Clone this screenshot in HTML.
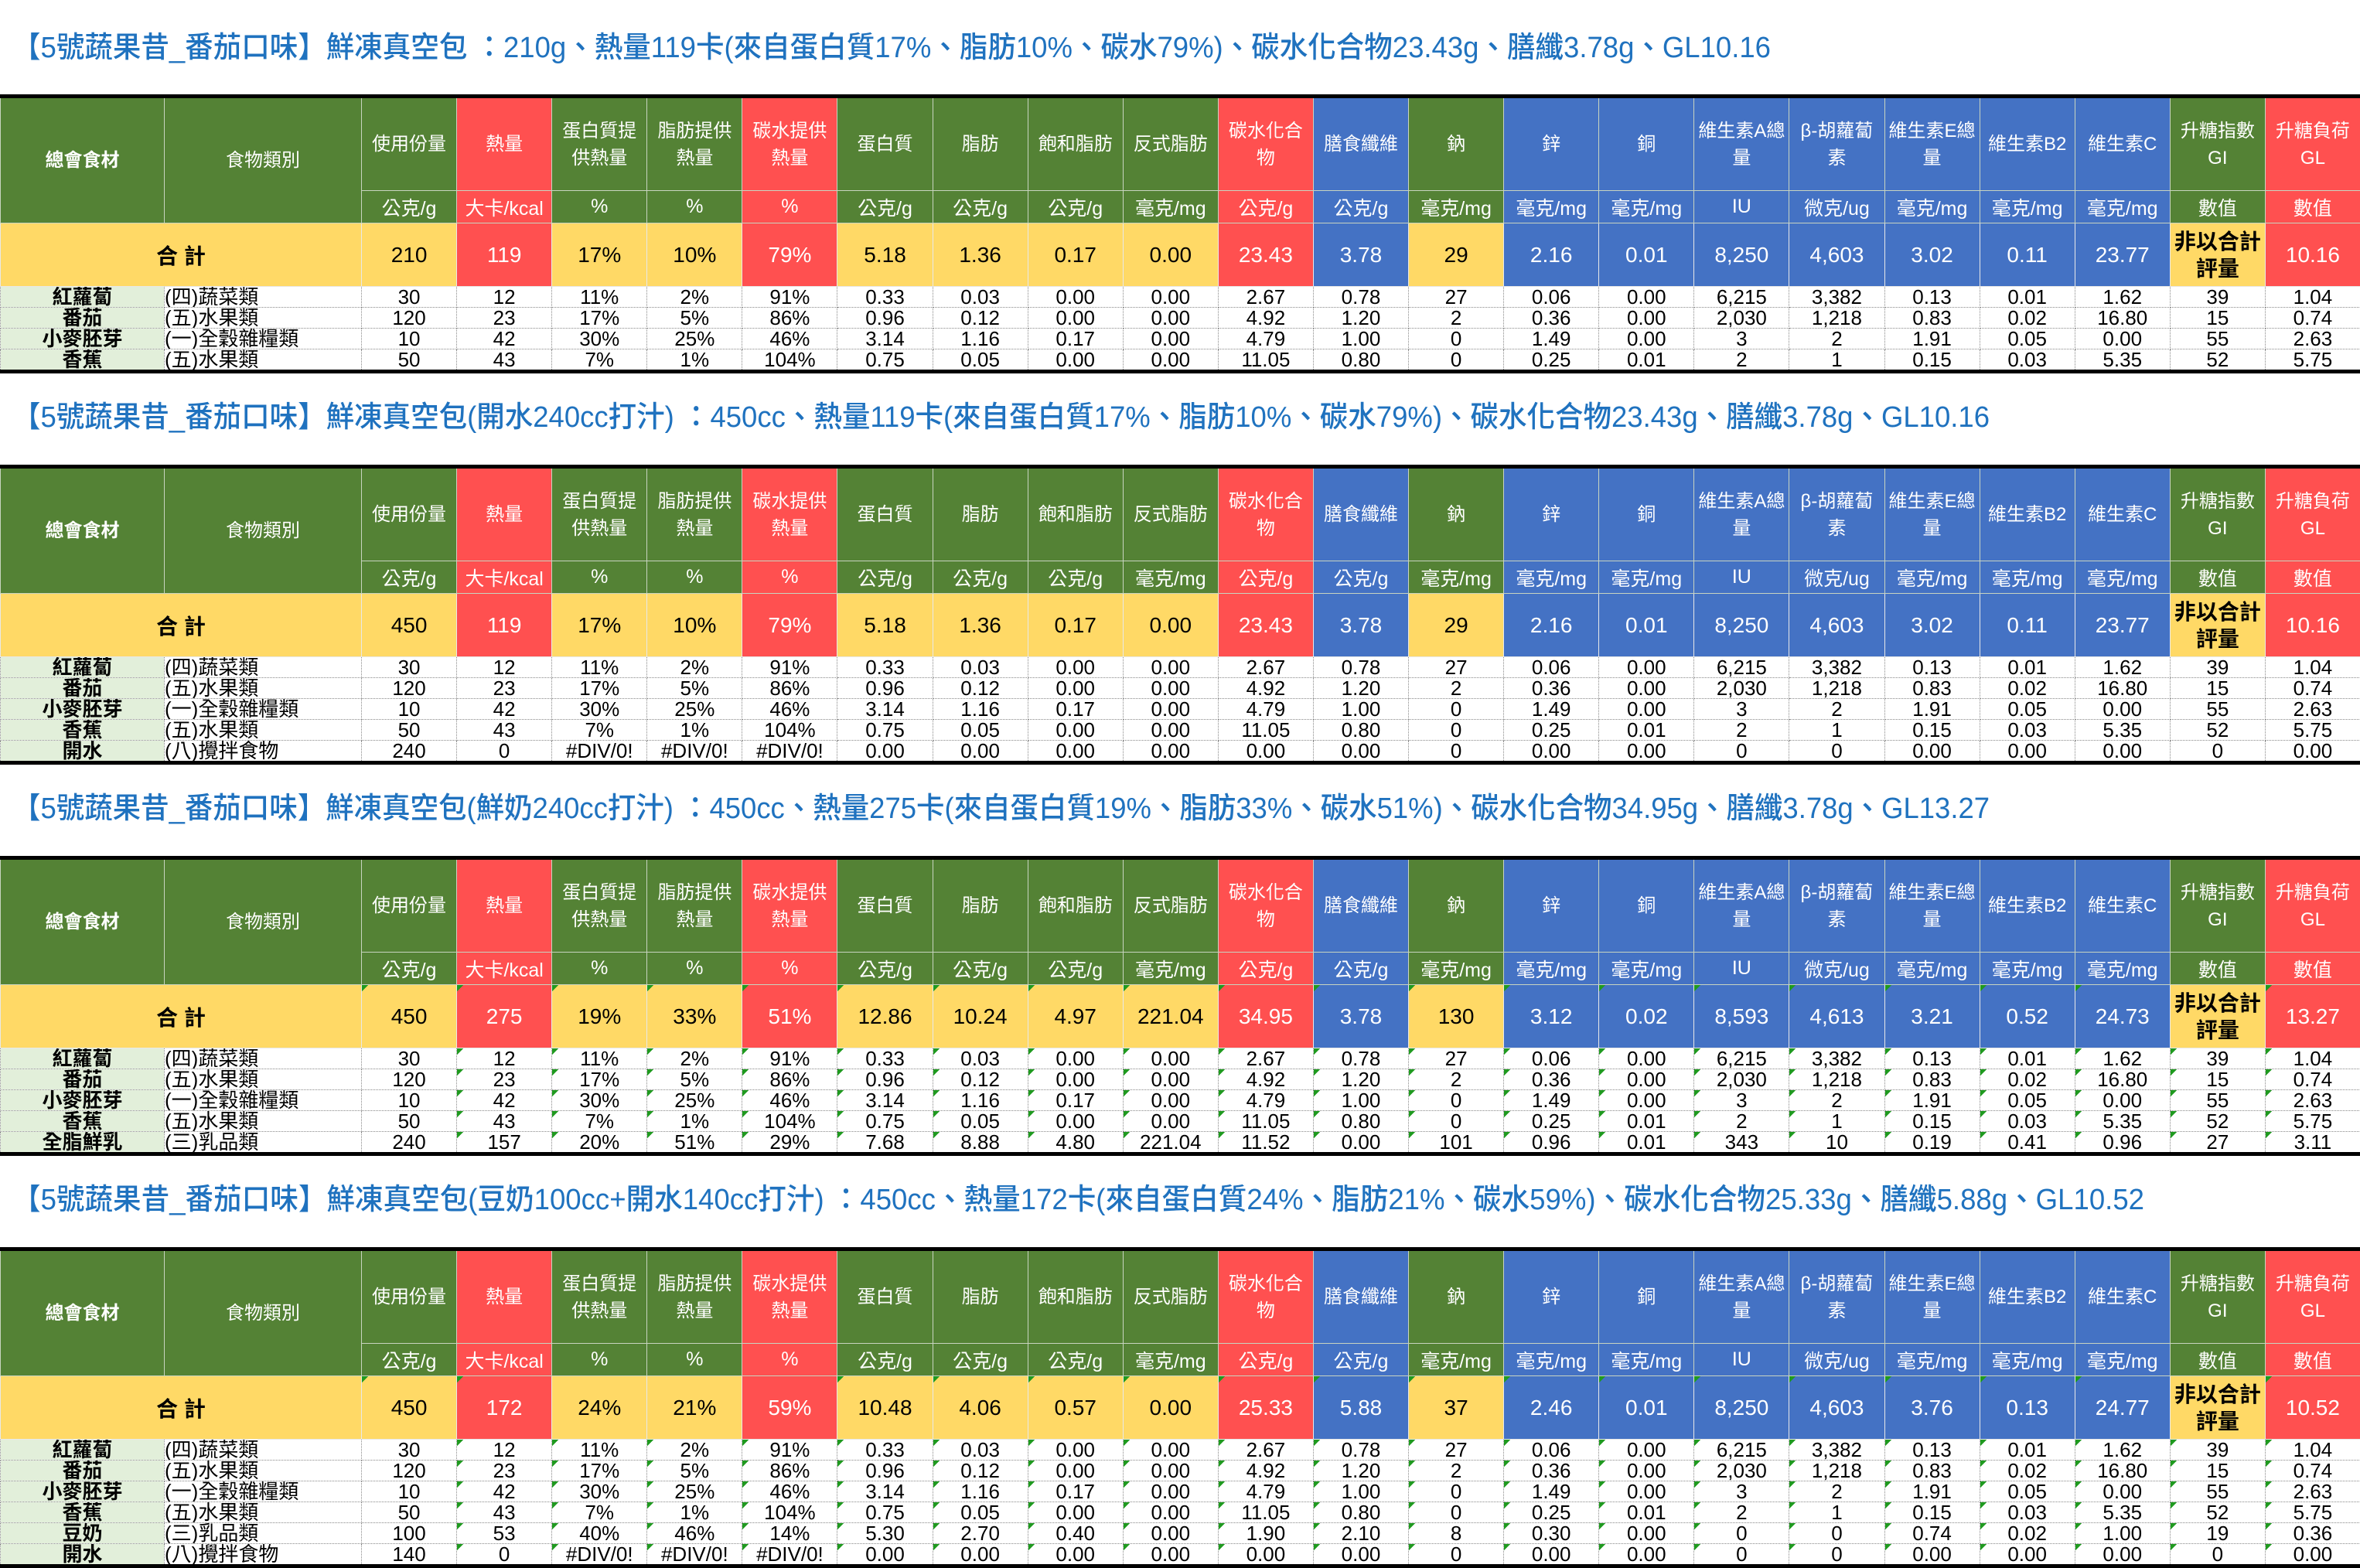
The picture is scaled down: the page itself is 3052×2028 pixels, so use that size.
<!DOCTYPE html>
<html><head><meta charset="utf-8">
<style>
*{margin:0;padding:0;box-sizing:border-box}
body{width:3052px;height:2026px;background:#fff;position:relative;overflow:hidden;font-family:"Liberation Sans Narrow","Liberation Sans","Noto Sans CJK TC",sans-serif}
.ttl{position:absolute;left:0}
table{position:absolute;left:0;width:3052px;border-collapse:collapse;table-layout:fixed;border-top:5px solid #000;border-bottom:5px solid #000}
td{padding:0;text-align:center;vertical-align:middle;white-space:nowrap;overflow:hidden;font-family:"Liberation Sans Narrow","Liberation Sans","Noto Sans CJK TC",sans-serif}
tr.h td{height:122px;color:#fff;font-size:24px;line-height:35px;border:1px solid #c8d4c0}
tr.u td{height:42px;color:#fff;font-size:25px;border:1px solid #c8d4c0}
tr.s td{height:82px;font-size:28px;color:#fff;border:1px solid #e8e8e8}
tr.d td{height:27px;font-size:26px;line-height:26px;color:#000;border:1px dotted #888}
.g{background:#548235}.r{background:#ff5050}.b{background:#4472c4}.y{background:#ffd966;color:#000!important}
td.f{background:#e2efda;font-weight:bold}
td.c{text-align:left}
td.k{font-weight:bold;font-size:25px;line-height:35px}
.t td.n{background-image:linear-gradient(135deg,#1f9a1f 6px,transparent 6px);background-size:14px 14px;background-repeat:no-repeat}
</style></head><body>

<svg class="ttl" style="top:0" width="3052" height="124"><text x="16" y="74" font-size="38" font-weight="500" fill="#1f72bf" textLength="2274" lengthAdjust="spacingAndGlyphs" font-family="Liberation Sans Narrow, Liberation Sans, Noto Sans CJK TC, sans-serif">【5號蔬果昔_番茄口味】鮮凍真空包 ：210g、熱量119卡(來自蛋白質17%、脂肪10%、碳水79%)、碳水化合物23.43g、膳纖3.78g、GL10.16</text></svg>

<table style="top:122px">
<colgroup><col style="width:212px"><col style="width:255px"><col span="21" style="width:123.1px"></colgroup>
<tr class="h"><td class="g" rowspan="2" style="font-weight:bold">總會食材</td><td class="g" rowspan="2">食物類別</td><td class="g">使用份量</td><td class="r">熱量</td><td class="g">蛋白質提<br>供熱量</td><td class="g">脂肪提供<br>熱量</td><td class="r">碳水提供<br>熱量</td><td class="g">蛋白質</td><td class="g">脂肪</td><td class="g">飽和脂肪</td><td class="g">反式脂肪</td><td class="r">碳水化合<br>物</td><td class="b">膳食纖維</td><td class="g">鈉</td><td class="b">鋅</td><td class="b">銅</td><td class="b">維生素A總<br>量</td><td class="b">β-胡蘿蔔<br>素</td><td class="b">維生素E總<br>量</td><td class="b">維生素B2</td><td class="b">維生素C</td><td class="g">升糖指數<br>GI</td><td class="r">升糖負荷<br>GL</td></tr>
<tr class="u"><td class="g">公克/g</td><td class="r">大卡/kcal</td><td class="g">%</td><td class="g">%</td><td class="r">%</td><td class="g">公克/g</td><td class="g">公克/g</td><td class="g">公克/g</td><td class="g">毫克/mg</td><td class="r">公克/g</td><td class="b">公克/g</td><td class="g">毫克/mg</td><td class="b">毫克/mg</td><td class="b">毫克/mg</td><td class="b">IU</td><td class="b">微克/ug</td><td class="b">毫克/mg</td><td class="b">毫克/mg</td><td class="b">毫克/mg</td><td class="g">數值</td><td class="r">數值</td></tr>
<tr class="s"><td class="y" colspan="2" style="font-weight:bold">合 計</td><td class="y">210</td><td class="r">119</td><td class="y">17%</td><td class="y">10%</td><td class="r">79%</td><td class="y">5.18</td><td class="y">1.36</td><td class="y">0.17</td><td class="y">0.00</td><td class="r">23.43</td><td class="b">3.78</td><td class="y">29</td><td class="b">2.16</td><td class="b">0.01</td><td class="b">8,250</td><td class="b">4,603</td><td class="b">3.02</td><td class="b">0.11</td><td class="b">23.77</td><td class="y k">非以合計<br>評量</td><td class="r">10.16</td></tr>
<tr class="d"><td class="f">紅蘿蔔</td><td class="c">(四)蔬菜類</td><td>30</td><td>12</td><td>11%</td><td>2%</td><td>91%</td><td>0.33</td><td>0.03</td><td>0.00</td><td>0.00</td><td>2.67</td><td>0.78</td><td>27</td><td>0.06</td><td>0.00</td><td>6,215</td><td>3,382</td><td>0.13</td><td>0.01</td><td>1.62</td><td>39</td><td>1.04</td></tr>
<tr class="d"><td class="f">番茄</td><td class="c">(五)水果類</td><td>120</td><td>23</td><td>17%</td><td>5%</td><td>86%</td><td>0.96</td><td>0.12</td><td>0.00</td><td>0.00</td><td>4.92</td><td>1.20</td><td>2</td><td>0.36</td><td>0.00</td><td>2,030</td><td>1,218</td><td>0.83</td><td>0.02</td><td>16.80</td><td>15</td><td>0.74</td></tr>
<tr class="d"><td class="f">小麥胚芽</td><td class="c">(一)全穀雜糧類</td><td>10</td><td>42</td><td>30%</td><td>25%</td><td>46%</td><td>3.14</td><td>1.16</td><td>0.17</td><td>0.00</td><td>4.79</td><td>1.00</td><td>0</td><td>1.49</td><td>0.00</td><td>3</td><td>2</td><td>1.91</td><td>0.05</td><td>0.00</td><td>55</td><td>2.63</td></tr>
<tr class="d"><td class="f">香蕉</td><td class="c">(五)水果類</td><td>50</td><td>43</td><td>7%</td><td>1%</td><td>104%</td><td>0.75</td><td>0.05</td><td>0.00</td><td>0.00</td><td>11.05</td><td>0.80</td><td>0</td><td>0.25</td><td>0.01</td><td>2</td><td>1</td><td>0.15</td><td>0.03</td><td>5.35</td><td>52</td><td>5.75</td></tr>
</table>

<svg class="ttl" style="top:481px" width="3052" height="122"><text x="16" y="71" font-size="38" font-weight="500" fill="#1f72bf" textLength="2557" lengthAdjust="spacingAndGlyphs" font-family="Liberation Sans Narrow, Liberation Sans, Noto Sans CJK TC, sans-serif">【5號蔬果昔_番茄口味】鮮凍真空包(開水240cc打汁) ：450cc、熱量119卡(來自蛋白質17%、脂肪10%、碳水79%)、碳水化合物23.43g、膳纖3.78g、GL10.16</text></svg>

<table style="top:601px">
<colgroup><col style="width:212px"><col style="width:255px"><col span="21" style="width:123.1px"></colgroup>
<tr class="h"><td class="g" rowspan="2" style="font-weight:bold">總會食材</td><td class="g" rowspan="2">食物類別</td><td class="g">使用份量</td><td class="r">熱量</td><td class="g">蛋白質提<br>供熱量</td><td class="g">脂肪提供<br>熱量</td><td class="r">碳水提供<br>熱量</td><td class="g">蛋白質</td><td class="g">脂肪</td><td class="g">飽和脂肪</td><td class="g">反式脂肪</td><td class="r">碳水化合<br>物</td><td class="b">膳食纖維</td><td class="g">鈉</td><td class="b">鋅</td><td class="b">銅</td><td class="b">維生素A總<br>量</td><td class="b">β-胡蘿蔔<br>素</td><td class="b">維生素E總<br>量</td><td class="b">維生素B2</td><td class="b">維生素C</td><td class="g">升糖指數<br>GI</td><td class="r">升糖負荷<br>GL</td></tr>
<tr class="u"><td class="g">公克/g</td><td class="r">大卡/kcal</td><td class="g">%</td><td class="g">%</td><td class="r">%</td><td class="g">公克/g</td><td class="g">公克/g</td><td class="g">公克/g</td><td class="g">毫克/mg</td><td class="r">公克/g</td><td class="b">公克/g</td><td class="g">毫克/mg</td><td class="b">毫克/mg</td><td class="b">毫克/mg</td><td class="b">IU</td><td class="b">微克/ug</td><td class="b">毫克/mg</td><td class="b">毫克/mg</td><td class="b">毫克/mg</td><td class="g">數值</td><td class="r">數值</td></tr>
<tr class="s"><td class="y" colspan="2" style="font-weight:bold">合 計</td><td class="y">450</td><td class="r">119</td><td class="y">17%</td><td class="y">10%</td><td class="r">79%</td><td class="y">5.18</td><td class="y">1.36</td><td class="y">0.17</td><td class="y">0.00</td><td class="r">23.43</td><td class="b">3.78</td><td class="y">29</td><td class="b">2.16</td><td class="b">0.01</td><td class="b">8,250</td><td class="b">4,603</td><td class="b">3.02</td><td class="b">0.11</td><td class="b">23.77</td><td class="y k">非以合計<br>評量</td><td class="r">10.16</td></tr>
<tr class="d"><td class="f">紅蘿蔔</td><td class="c">(四)蔬菜類</td><td>30</td><td>12</td><td>11%</td><td>2%</td><td>91%</td><td>0.33</td><td>0.03</td><td>0.00</td><td>0.00</td><td>2.67</td><td>0.78</td><td>27</td><td>0.06</td><td>0.00</td><td>6,215</td><td>3,382</td><td>0.13</td><td>0.01</td><td>1.62</td><td>39</td><td>1.04</td></tr>
<tr class="d"><td class="f">番茄</td><td class="c">(五)水果類</td><td>120</td><td>23</td><td>17%</td><td>5%</td><td>86%</td><td>0.96</td><td>0.12</td><td>0.00</td><td>0.00</td><td>4.92</td><td>1.20</td><td>2</td><td>0.36</td><td>0.00</td><td>2,030</td><td>1,218</td><td>0.83</td><td>0.02</td><td>16.80</td><td>15</td><td>0.74</td></tr>
<tr class="d"><td class="f">小麥胚芽</td><td class="c">(一)全穀雜糧類</td><td>10</td><td>42</td><td>30%</td><td>25%</td><td>46%</td><td>3.14</td><td>1.16</td><td>0.17</td><td>0.00</td><td>4.79</td><td>1.00</td><td>0</td><td>1.49</td><td>0.00</td><td>3</td><td>2</td><td>1.91</td><td>0.05</td><td>0.00</td><td>55</td><td>2.63</td></tr>
<tr class="d"><td class="f">香蕉</td><td class="c">(五)水果類</td><td>50</td><td>43</td><td>7%</td><td>1%</td><td>104%</td><td>0.75</td><td>0.05</td><td>0.00</td><td>0.00</td><td>11.05</td><td>0.80</td><td>0</td><td>0.25</td><td>0.01</td><td>2</td><td>1</td><td>0.15</td><td>0.03</td><td>5.35</td><td>52</td><td>5.75</td></tr>
<tr class="d"><td class="f">開水</td><td class="c">(八)攪拌食物</td><td>240</td><td>0</td><td>#DIV/0!</td><td>#DIV/0!</td><td>#DIV/0!</td><td>0.00</td><td>0.00</td><td>0.00</td><td>0.00</td><td>0.00</td><td>0.00</td><td>0</td><td>0.00</td><td>0.00</td><td>0</td><td>0</td><td>0.00</td><td>0.00</td><td>0.00</td><td>0</td><td>0.00</td></tr>
</table>

<svg class="ttl" style="top:987px" width="3052" height="122"><text x="16" y="71" font-size="38" font-weight="500" fill="#1f72bf" textLength="2557" lengthAdjust="spacingAndGlyphs" font-family="Liberation Sans Narrow, Liberation Sans, Noto Sans CJK TC, sans-serif">【5號蔬果昔_番茄口味】鮮凍真空包(鮮奶240cc打汁) ：450cc、熱量275卡(來自蛋白質19%、脂肪33%、碳水51%)、碳水化合物34.95g、膳纖3.78g、GL13.27</text></svg>

<table class="t" style="top:1107px">
<colgroup><col style="width:212px"><col style="width:255px"><col span="21" style="width:123.1px"></colgroup>
<tr class="h"><td class="g" rowspan="2" style="font-weight:bold">總會食材</td><td class="g" rowspan="2">食物類別</td><td class="g">使用份量</td><td class="r">熱量</td><td class="g">蛋白質提<br>供熱量</td><td class="g">脂肪提供<br>熱量</td><td class="r">碳水提供<br>熱量</td><td class="g">蛋白質</td><td class="g">脂肪</td><td class="g">飽和脂肪</td><td class="g">反式脂肪</td><td class="r">碳水化合<br>物</td><td class="b">膳食纖維</td><td class="g">鈉</td><td class="b">鋅</td><td class="b">銅</td><td class="b">維生素A總<br>量</td><td class="b">β-胡蘿蔔<br>素</td><td class="b">維生素E總<br>量</td><td class="b">維生素B2</td><td class="b">維生素C</td><td class="g">升糖指數<br>GI</td><td class="r">升糖負荷<br>GL</td></tr>
<tr class="u"><td class="g">公克/g</td><td class="r">大卡/kcal</td><td class="g">%</td><td class="g">%</td><td class="r">%</td><td class="g">公克/g</td><td class="g">公克/g</td><td class="g">公克/g</td><td class="g">毫克/mg</td><td class="r">公克/g</td><td class="b">公克/g</td><td class="g">毫克/mg</td><td class="b">毫克/mg</td><td class="b">毫克/mg</td><td class="b">IU</td><td class="b">微克/ug</td><td class="b">毫克/mg</td><td class="b">毫克/mg</td><td class="b">毫克/mg</td><td class="g">數值</td><td class="r">數值</td></tr>
<tr class="s"><td class="y" colspan="2" style="font-weight:bold">合 計</td><td class="y n">450</td><td class="r n">275</td><td class="y n">19%</td><td class="y n">33%</td><td class="r n">51%</td><td class="y n">12.86</td><td class="y n">10.24</td><td class="y n">4.97</td><td class="y n">221.04</td><td class="r n">34.95</td><td class="b n">3.78</td><td class="y n">130</td><td class="b n">3.12</td><td class="b n">0.02</td><td class="b n">8,593</td><td class="b n">4,613</td><td class="b n">3.21</td><td class="b n">0.52</td><td class="b n">24.73</td><td class="y k">非以合計<br>評量</td><td class="r n">13.27</td></tr>
<tr class="d"><td class="f">紅蘿蔔</td><td class="c">(四)蔬菜類</td><td>30</td><td class="n">12</td><td class="n">11%</td><td class="n">2%</td><td class="n">91%</td><td class="n">0.33</td><td class="n">0.03</td><td class="n">0.00</td><td class="n">0.00</td><td class="n">2.67</td><td class="n">0.78</td><td class="n">27</td><td class="n">0.06</td><td class="n">0.00</td><td class="n">6,215</td><td class="n">3,382</td><td class="n">0.13</td><td class="n">0.01</td><td class="n">1.62</td><td class="n">39</td><td class="n">1.04</td></tr>
<tr class="d"><td class="f">番茄</td><td class="c">(五)水果類</td><td>120</td><td class="n">23</td><td class="n">17%</td><td class="n">5%</td><td class="n">86%</td><td class="n">0.96</td><td class="n">0.12</td><td class="n">0.00</td><td class="n">0.00</td><td class="n">4.92</td><td class="n">1.20</td><td class="n">2</td><td class="n">0.36</td><td class="n">0.00</td><td class="n">2,030</td><td class="n">1,218</td><td class="n">0.83</td><td class="n">0.02</td><td class="n">16.80</td><td class="n">15</td><td class="n">0.74</td></tr>
<tr class="d"><td class="f">小麥胚芽</td><td class="c">(一)全穀雜糧類</td><td>10</td><td class="n">42</td><td class="n">30%</td><td class="n">25%</td><td class="n">46%</td><td class="n">3.14</td><td class="n">1.16</td><td class="n">0.17</td><td class="n">0.00</td><td class="n">4.79</td><td class="n">1.00</td><td class="n">0</td><td class="n">1.49</td><td class="n">0.00</td><td class="n">3</td><td class="n">2</td><td class="n">1.91</td><td class="n">0.05</td><td class="n">0.00</td><td class="n">55</td><td class="n">2.63</td></tr>
<tr class="d"><td class="f">香蕉</td><td class="c">(五)水果類</td><td>50</td><td class="n">43</td><td class="n">7%</td><td class="n">1%</td><td class="n">104%</td><td class="n">0.75</td><td class="n">0.05</td><td class="n">0.00</td><td class="n">0.00</td><td class="n">11.05</td><td class="n">0.80</td><td class="n">0</td><td class="n">0.25</td><td class="n">0.01</td><td class="n">2</td><td class="n">1</td><td class="n">0.15</td><td class="n">0.03</td><td class="n">5.35</td><td class="n">52</td><td class="n">5.75</td></tr>
<tr class="d"><td class="f">全脂鮮乳</td><td class="c">(三)乳品類</td><td>240</td><td class="n">157</td><td class="n">20%</td><td class="n">51%</td><td class="n">29%</td><td class="n">7.68</td><td class="n">8.88</td><td class="n">4.80</td><td class="n">221.04</td><td class="n">11.52</td><td class="n">0.00</td><td class="n">101</td><td class="n">0.96</td><td class="n">0.01</td><td class="n">343</td><td class="n">10</td><td class="n">0.19</td><td class="n">0.41</td><td class="n">0.96</td><td class="n">27</td><td class="n">3.11</td></tr>
</table>

<svg class="ttl" style="top:1493px" width="3052" height="122"><text x="16" y="71" font-size="38" font-weight="500" fill="#1f72bf" textLength="2757" lengthAdjust="spacingAndGlyphs" font-family="Liberation Sans Narrow, Liberation Sans, Noto Sans CJK TC, sans-serif">【5號蔬果昔_番茄口味】鮮凍真空包(豆奶100cc+開水140cc打汁) ：450cc、熱量172卡(來自蛋白質24%、脂肪21%、碳水59%)、碳水化合物25.33g、膳纖5.88g、GL10.52</text></svg>

<table class="t" style="top:1613px">
<colgroup><col style="width:212px"><col style="width:255px"><col span="21" style="width:123.1px"></colgroup>
<tr class="h"><td class="g" rowspan="2" style="font-weight:bold">總會食材</td><td class="g" rowspan="2">食物類別</td><td class="g">使用份量</td><td class="r">熱量</td><td class="g">蛋白質提<br>供熱量</td><td class="g">脂肪提供<br>熱量</td><td class="r">碳水提供<br>熱量</td><td class="g">蛋白質</td><td class="g">脂肪</td><td class="g">飽和脂肪</td><td class="g">反式脂肪</td><td class="r">碳水化合<br>物</td><td class="b">膳食纖維</td><td class="g">鈉</td><td class="b">鋅</td><td class="b">銅</td><td class="b">維生素A總<br>量</td><td class="b">β-胡蘿蔔<br>素</td><td class="b">維生素E總<br>量</td><td class="b">維生素B2</td><td class="b">維生素C</td><td class="g">升糖指數<br>GI</td><td class="r">升糖負荷<br>GL</td></tr>
<tr class="u"><td class="g">公克/g</td><td class="r">大卡/kcal</td><td class="g">%</td><td class="g">%</td><td class="r">%</td><td class="g">公克/g</td><td class="g">公克/g</td><td class="g">公克/g</td><td class="g">毫克/mg</td><td class="r">公克/g</td><td class="b">公克/g</td><td class="g">毫克/mg</td><td class="b">毫克/mg</td><td class="b">毫克/mg</td><td class="b">IU</td><td class="b">微克/ug</td><td class="b">毫克/mg</td><td class="b">毫克/mg</td><td class="b">毫克/mg</td><td class="g">數值</td><td class="r">數值</td></tr>
<tr class="s"><td class="y" colspan="2" style="font-weight:bold">合 計</td><td class="y n">450</td><td class="r n">172</td><td class="y">24%</td><td class="y">21%</td><td class="r">59%</td><td class="y n">10.48</td><td class="y n">4.06</td><td class="y n">0.57</td><td class="y n">0.00</td><td class="r n">25.33</td><td class="b n">5.88</td><td class="y n">37</td><td class="b n">2.46</td><td class="b n">0.01</td><td class="b n">8,250</td><td class="b n">4,603</td><td class="b n">3.76</td><td class="b n">0.13</td><td class="b n">24.77</td><td class="y k">非以合計<br>評量</td><td class="r n">10.52</td></tr>
<tr class="d"><td class="f">紅蘿蔔</td><td class="c">(四)蔬菜類</td><td>30</td><td class="n">12</td><td class="n">11%</td><td class="n">2%</td><td class="n">91%</td><td class="n">0.33</td><td class="n">0.03</td><td class="n">0.00</td><td class="n">0.00</td><td class="n">2.67</td><td class="n">0.78</td><td class="n">27</td><td class="n">0.06</td><td class="n">0.00</td><td class="n">6,215</td><td class="n">3,382</td><td class="n">0.13</td><td class="n">0.01</td><td class="n">1.62</td><td class="n">39</td><td class="n">1.04</td></tr>
<tr class="d"><td class="f">番茄</td><td class="c">(五)水果類</td><td>120</td><td class="n">23</td><td class="n">17%</td><td class="n">5%</td><td class="n">86%</td><td class="n">0.96</td><td class="n">0.12</td><td class="n">0.00</td><td class="n">0.00</td><td class="n">4.92</td><td class="n">1.20</td><td class="n">2</td><td class="n">0.36</td><td class="n">0.00</td><td class="n">2,030</td><td class="n">1,218</td><td class="n">0.83</td><td class="n">0.02</td><td class="n">16.80</td><td class="n">15</td><td class="n">0.74</td></tr>
<tr class="d"><td class="f">小麥胚芽</td><td class="c">(一)全穀雜糧類</td><td>10</td><td class="n">42</td><td class="n">30%</td><td class="n">25%</td><td class="n">46%</td><td class="n">3.14</td><td class="n">1.16</td><td class="n">0.17</td><td class="n">0.00</td><td class="n">4.79</td><td class="n">1.00</td><td class="n">0</td><td class="n">1.49</td><td class="n">0.00</td><td class="n">3</td><td class="n">2</td><td class="n">1.91</td><td class="n">0.05</td><td class="n">0.00</td><td class="n">55</td><td class="n">2.63</td></tr>
<tr class="d"><td class="f">香蕉</td><td class="c">(五)水果類</td><td>50</td><td class="n">43</td><td class="n">7%</td><td class="n">1%</td><td class="n">104%</td><td class="n">0.75</td><td class="n">0.05</td><td class="n">0.00</td><td class="n">0.00</td><td class="n">11.05</td><td class="n">0.80</td><td class="n">0</td><td class="n">0.25</td><td class="n">0.01</td><td class="n">2</td><td class="n">1</td><td class="n">0.15</td><td class="n">0.03</td><td class="n">5.35</td><td class="n">52</td><td class="n">5.75</td></tr>
<tr class="d"><td class="f">豆奶</td><td class="c">(三)乳品類</td><td>100</td><td class="n">53</td><td class="n">40%</td><td class="n">46%</td><td class="n">14%</td><td class="n">5.30</td><td class="n">2.70</td><td class="n">0.40</td><td class="n">0.00</td><td class="n">1.90</td><td class="n">2.10</td><td class="n">8</td><td class="n">0.30</td><td class="n">0.00</td><td class="n">0</td><td class="n">0</td><td class="n">0.74</td><td class="n">0.02</td><td class="n">1.00</td><td class="n">19</td><td class="n">0.36</td></tr>
<tr class="d"><td class="f">開水</td><td class="c">(八)攪拌食物</td><td>140</td><td class="n">0</td><td class="n">#DIV/0!</td><td class="n">#DIV/0!</td><td class="n">#DIV/0!</td><td class="n">0.00</td><td class="n">0.00</td><td class="n">0.00</td><td class="n">0.00</td><td class="n">0.00</td><td class="n">0.00</td><td class="n">0</td><td class="n">0.00</td><td class="n">0.00</td><td class="n">0</td><td class="n">0</td><td class="n">0.00</td><td class="n">0.00</td><td class="n">0.00</td><td class="n">0</td><td class="n">0.00</td></tr>
</table>
</body></html>
